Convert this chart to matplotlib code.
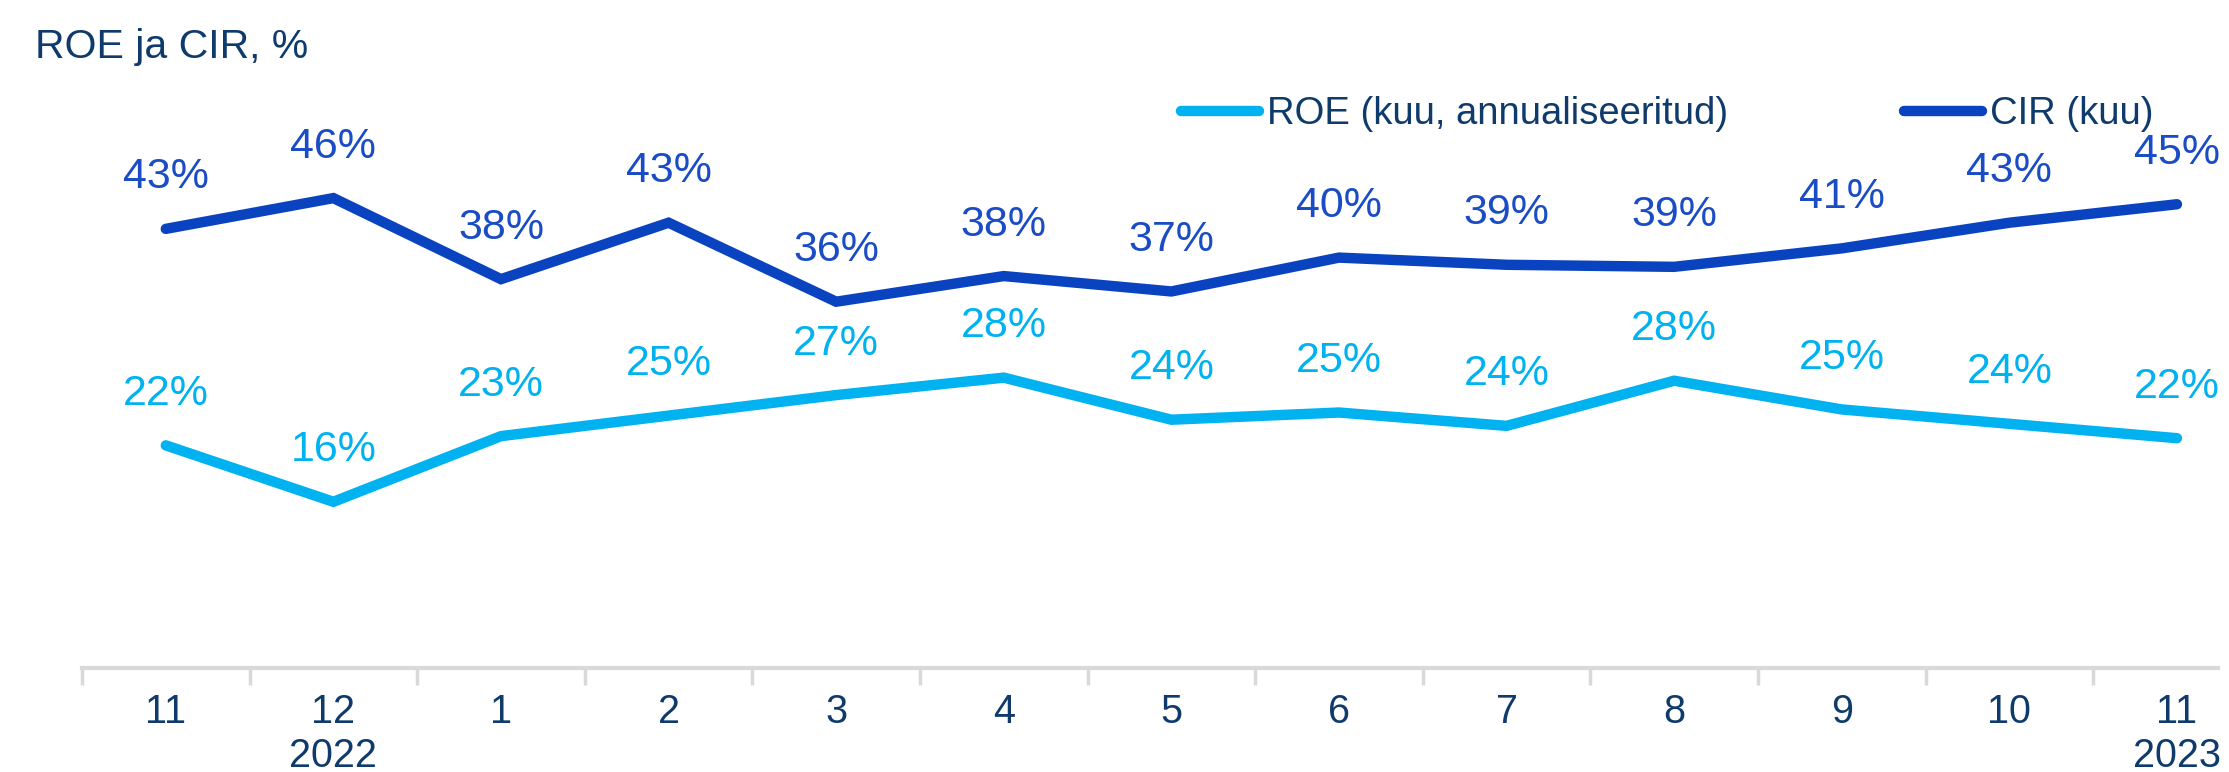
import matplotlib
matplotlib.use('Agg')
import matplotlib.pyplot as plt
import numpy as np
from matplotlib.ticker import FixedLocator, FixedFormatter, NullFormatter

plt.rcParams['font.family'] = ['Liberation Sans', 'DejaVu Sans']

# ---- data ----
months = ['11', '12', '1', '2', '3', '4', '5', '6', '7', '8', '9', '10', '11']
years = ['', '2022', '', '', '', '', '', '', '', '', '', '', '2023']
roe = [21.7, 16.2, 22.6, 24.6, 26.6, 28.3, 24.2, 24.9, 23.6, 28.0, 25.2, 23.8, 22.4]
cir = [42.8, 45.8, 37.9, 43.4, 35.7, 38.2, 36.7, 40.0, 39.3, 39.1, 40.9, 43.4, 45.2]
roe_name = 'ROE (kuu, annualiseeritud)'
cir_name = 'CIR (kuu)'
title = 'ROE ja CIR, %'

# ---- style ----
W, H = 2229, 772
C_ROE = '#00B2F0'
C_CIR = '#0A43C0'
C_CIR_LBL = '#1A4CC6'
C_TXT = '#0E3B6B'
C_AX = '#D9D9D9'

fig = plt.figure(figsize=(W / 100, H / 100), dpi=100)
ax_left, ax_right = 82, 2218
ax_bottom_px = 668
ymax = 58
px_per_unit = 10.26
ax_top_px = ax_bottom_px - ymax * px_per_unit
ax = fig.add_axes([ax_left / W, 1 - ax_bottom_px / H,
                   (ax_right - ax_left) / W, (ax_bottom_px - ax_top_px) / H])

x = np.arange(len(months))
LW = 7.5
l1, = ax.plot(x, roe, color=C_ROE, lw=LW, solid_capstyle='round',
              solid_joinstyle='miter', label=roe_name, zorder=3)
l2, = ax.plot(x, cir, color=C_CIR, lw=LW, solid_capstyle='round',
              solid_joinstyle='miter', label=cir_name, zorder=3)

for xi, v in zip(x, roe):
    ax.annotate(f'{v:.0f}%', (xi, v), xytext=(0, 37), textcoords='offset points',
                ha='center', va='center', fontsize=31, color=C_ROE)
for xi, v in zip(x, cir):
    ax.annotate(f'{v:.0f}%', (xi, v), xytext=(0, 37), textcoords='offset points',
                ha='center', va='center', fontsize=31, color=C_CIR_LBL)

ax.set_xlim(-0.5, 12.245)
ax.set_ylim(0, ymax)

for s in ['top', 'right', 'left']:
    ax.spines[s].set_visible(False)
ax.spines['bottom'].set_color(C_AX)
ax.spines['bottom'].set_linewidth(3)
ax.set_yticks([])

labels = [m if y == '' else f'{m}\n{y}' for m, y in zip(months, years)]
ax.xaxis.set_major_locator(FixedLocator(np.arange(len(months)) - 0.5))
ax.xaxis.set_major_formatter(NullFormatter())
ax.xaxis.set_minor_locator(FixedLocator(x))
ax.xaxis.set_minor_formatter(FixedFormatter(labels))
ax.tick_params(axis='x', which='major', length=12, width=2.5, color=C_AX, direction='out')
ax.tick_params(axis='x', which='minor', length=0, pad=18, labelsize=28.5, labelcolor=C_TXT)

fig.text(35 / W, 1 - 58 / H, title, ha='left', va='baseline', fontsize=29.5, color=C_TXT)

fig.legend(handles=[l1, l2], loc='center left', bbox_to_anchor=(1181 / W, 1 - 114 / H),
           ncol=2, frameon=False, fontsize=27.5, labelcolor=C_TXT, handlelength=2.05,
           handletextpad=0.2, columnspacing=4.6, borderpad=0, borderaxespad=0)

fig.savefig('out.png', dpi=100)
